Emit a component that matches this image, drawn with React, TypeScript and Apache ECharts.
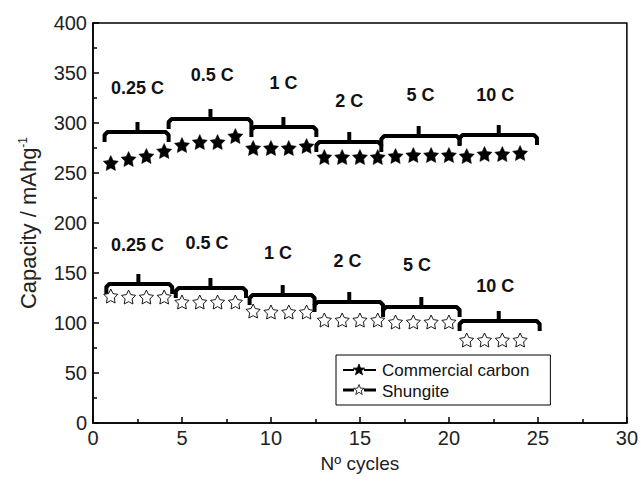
import React, { useEffect, useRef } from "react";
import * as echarts from "echarts";

const cycles = [1, 2, 3, 4, 5, 6, 7, 8, 9, 10, 11, 12, 13, 14, 15, 16, 17, 18, 19, 20, 21, 22, 23, 24];
const commercialCarbon = [260, 264, 267, 272, 278, 281, 281, 287, 275, 275, 275, 277, 266, 266, 266, 266, 267, 268, 268, 268, 267, 269, 269, 270];
const shungite = [127, 126, 126, 126, 121, 121, 121, 121, 112, 111, 111, 111, 103, 103, 103, 103, 101, 101, 101, 101, 83, 83, 83, 83];

const rateLabels = ["0.25 C", "0.5 C", "1 C", "2 C", "5 C", "10 C"];
// label anchor positions in data units [cycle, capacity]
const carbonLabelPos = [[2.5, 335], [6.7, 348], [10.7, 340], [14.4, 322], [18.4, 328], [22.6, 328]];
const shungiteLabelPos = [[2.5, 178], [6.4, 180], [10.4, 170], [14.3, 162], [18.2, 158], [22.6, 137]];
// brackets: [xStart, xEnd, yLevel, xTick]
const carbonBrackets = [[0.65, 4.25, 291, 2.5], [4.25, 8.9, 304, 6.6], [8.9, 12.55, 296, 10.7], [12.55, 16.2, 281, 14.4], [16.2, 20.6, 287, 18.3], [20.6, 24.95, 288, 22.8]];
const shungiteBrackets = [[0.75, 4.45, 139, 2.55], [4.65, 8.6, 135, 6.6], [8.8, 12.45, 128, 10.66], [12.45, 16.3, 121, 14.4], [16.3, 20.6, 116, 18.45], [20.6, 25.1, 102, 22.8]];

const STAR = "path://M0,-10 L2.94,-4.05 9.51,-3.09 4.76,1.55 5.88,8.09 0,5 -5.88,8.09 -4.76,1.55 -9.51,-3.09 -2.94,-4.05 Z";
const FONT = "Liberation Sans, Arial, sans-serif";

function starPoints(cx: number, cy: number, r: number) {
  const pts: number[][] = [];
  for (let k = 0; k < 10; k++) {
    const ang = -Math.PI / 2 + (k * Math.PI) / 5;
    const rr = k % 2 === 0 ? r : r * 0.42;
    pts.push([cx + rr * Math.cos(ang), cy + rr * Math.sin(ang)]);
  }
  return pts;
}

function legendIcon(y: number, filled: boolean, lw: number) {
  const cx = 359;
  return [
    { type: "line", shape: { x1: 343, y1: y, x2: cx - 5, y2: y }, style: { stroke: "#000", lineWidth: lw } },
    { type: "line", shape: { x1: cx + 5, y1: y, x2: 376, y2: y }, style: { stroke: "#000", lineWidth: lw } },
    { type: "polygon", shape: { points: starPoints(cx, y, filled ? 6 : 5.5) }, style: { fill: filled ? "#000" : "#fff", stroke: "#000", lineWidth: 0.8 } },
  ];
}

function bracketSeries(data: number[][]) {
  return {
    type: "custom",
    silent: true,
    data,
    renderItem: (params: any, api: any) => {
      const x0 = api.value(0), x1 = api.value(1), y = api.value(2), xt = api.value(3);
      const a = api.coord([x0, y]);
      const b = api.coord([x1, y]);
      const t = api.coord([xt, y]);
      const drop = 10, tick = 10;
      return {
        type: "group",
        children: [
          {
            type: "polyline",
            shape: { points: [[a[0], a[1] + drop], [a[0], a[1] + 3], [a[0] + 3, a[1]], [b[0] - 3, b[1]], [b[0], b[1] + 3], [b[0], b[1] + drop]] },
            style: { stroke: "#000", lineWidth: 4, fill: null, lineJoin: "round" },
          },
          {
            type: "line",
            shape: { x1: t[0], y1: t[1], x2: t[0], y2: t[1] - tick },
            style: { stroke: "#000", lineWidth: 4 },
          },
        ],
      };
    },
  };
}

function labelSeries(pos: number[][]) {
  return {
    type: "custom",
    silent: true,
    data: pos,
    renderItem: (params: any, api: any) => {
      const p = api.coord([api.value(0), api.value(1)]);
      return {
        type: "text",
        x: p[0],
        y: p[1],
        style: {
          text: rateLabels[params.dataIndex],
          align: "center",
          verticalAlign: "middle",
          font: "bold 18px " + FONT,
          fill: "#111",
        },
      };
    },
  };
}

export default function App() {
  const ref = useRef<HTMLDivElement>(null);
  useEffect(() => {
    const chart = echarts.init(ref.current!, null, { renderer: "svg" });
    chart.setOption({
      animation: false,
      backgroundColor: "#fff",
      textStyle: { fontFamily: FONT },
      grid: { left: 93, right: 14, top: 23, bottom: 61, show: true, borderColor: "#000", borderWidth: 1.5, backgroundColor: "transparent" },
      legend: {
        orient: "vertical",
        left: 336,
        top: 355,
        padding: [7, 21, 5, 6],
        itemGap: 4,
        itemWidth: 34,
        itemHeight: 14,
        icon: "rect",
        itemStyle: { opacity: 0 },
        borderColor: "#000",
        borderWidth: 1,
        borderRadius: 0,
        data: ["Commercial carbon", "Shungite"],
        textStyle: { fontSize: 17, color: "#111", fontFamily: FONT },
      },
      graphic: [
        { type: "group", z: 100, children: [...legendIcon(370, true, 2), ...legendIcon(390, false, 3)] },
      ],
      xAxis: {
        type: "value",
        min: 0,
        max: 30,
        interval: 5,
        name: "Nº cycles",
        nameLocation: "middle",
        nameGap: 31,
        nameTextStyle: { fontSize: 19, color: "#222", fontFamily: FONT },
        axisLine: { lineStyle: { color: "#000", width: 1.5 } },
        axisTick: { inside: true, length: 6, lineStyle: { color: "#000", width: 1.5 } },
        minorTick: { show: true, splitNumber: 2, length: 4, lineStyle: { color: "#000", width: 1.5 } },
        axisLabel: { fontSize: 20, color: "#222", margin: 5, fontFamily: FONT },
        splitLine: { show: false },
      },
      yAxis: {
        type: "value",
        min: 0,
        max: 400,
        interval: 50,
        name: "Capacity / mAhg{sup|-1}",
        nameLocation: "middle",
        nameGap: 54,
        nameTextStyle: {
          fontSize: 22,
          color: "#222",
          fontFamily: FONT,
          rich: { sup: { fontSize: 12, verticalAlign: "top", color: "#222", fontFamily: FONT, padding: [0, 0, 10, 0] } },
        },
        axisLine: { lineStyle: { color: "#000", width: 1.5 } },
        axisTick: { inside: true, length: 6, lineStyle: { color: "#000", width: 1.5 } },
        minorTick: { show: true, splitNumber: 2, length: 4, lineStyle: { color: "#000", width: 1.5 } },
        axisLabel: { fontSize: 20, color: "#222", margin: 6, fontFamily: FONT },
        splitLine: { show: false },
      },
      series: [
        {
          name: "Commercial carbon",
          type: "line",
          data: cycles.map((c, i) => [c, commercialCarbon[i]]),
          symbol: STAR,
          symbolSize: 15,
          itemStyle: { color: "#000", borderColor: "#000", borderWidth: 0.5 },
          lineStyle: { width: 0, opacity: 0 },
          z: 5,
        },
        {
          name: "Shungite",
          type: "line",
          data: cycles.map((c, i) => [c, shungite[i]]),
          symbol: STAR,
          symbolSize: 14,
          itemStyle: { color: "#fff", borderColor: "#000", borderWidth: 0.9 },
          lineStyle: { width: 0, opacity: 0 },
          z: 5,
        },
        bracketSeries(carbonBrackets),
        bracketSeries(shungiteBrackets),
        labelSeries(carbonLabelPos),
        labelSeries(shungiteLabelPos),
      ],
    });
    return () => chart.dispose();
  }, []);
  return <div ref={ref} style={{ width: 641, height: 484, position: "absolute", left: 0, top: 0 }} />;
}
